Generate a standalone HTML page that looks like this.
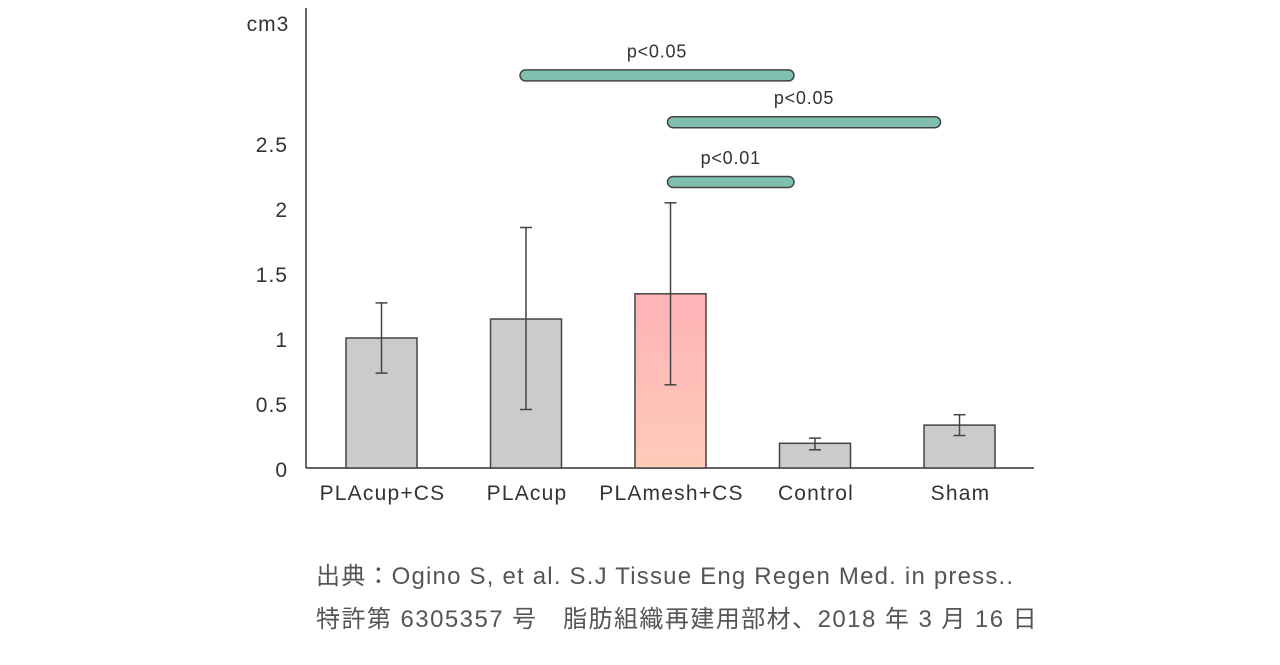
<!DOCTYPE html>
<html><head><meta charset="utf-8"><style>
body{margin:0;background:#fff;width:1280px;height:660px;overflow:hidden}
svg text{font-family:"Liberation Sans","Noto Sans CJK JP",sans-serif;fill:#333}
</style></head><body>
<svg id="c" width="1280" height="660">
<defs><linearGradient id="pg" x1="0" y1="0" x2="0" y2="1"><stop offset="0" stop-color="#ffb3b8"/><stop offset="1" stop-color="#ffcab8"/></linearGradient></defs>
</svg>
<script>
const categories=["PLAcup+CS","PLAcup","PLAmesh+CS","Control","Sham"];
const values=[1.0,1.146,1.34,0.19,0.33];
const errHigh=[1.27,1.85,2.04,0.23,0.41];
const errLow=[0.73,0.45,0.64,0.14,0.25];
const yTicks=[0,0.5,1,1.5,2,2.5];
const yTickLabels=["0","0.5","1","1.5","2","2.5"];
const sigFrom=[1,2,2];
const sigTo=[3,4,3];
const sigY=[3.02,2.66,2.2];
const sigLabels=["p<0.05","p<0.05","p<0.01"];
const svg=document.getElementById('c');const NS="http://www.w3.org/2000/svg";
function y(v){return 468-v*130;}
function x(i){return 381.5+i*144.5;}
function mk(t,a,p){const e=document.createElementNS(NS,t);for(const k in a)e.setAttribute(k,a[k]);(p||svg).appendChild(e);return e;}
let ax=mk('line',{x1:306,y1:8,x2:306,y2:468,stroke:'#333','stroke-width':1.5});


let xa=mk('line',{x1:306,y1:468,x2:1034,y2:468,stroke:'#333','stroke-width':1.5});


let u=mk('text',{x:268,y:31,'font-size':21,'letter-spacing':1,'text-anchor':'middle'});u.textContent='cm3';


yTicks.forEach((v,i)=>{let t=mk('text',{x:288,y:y(v)+9,'font-size':21,'letter-spacing':1,'text-anchor':'end'});t.textContent=yTickLabels[i];

});
categories.forEach((c,i)=>{
 let b=mk('rect',{x:x(i)-35.5,y:y(values[i]),width:71,height:y(0)-y(values[i]),fill:i==2?'url(#pg)':'#cbcbcb',stroke:'#444','stroke-width':1.5});
 
 
 let g=mk('g',{stroke:'#444','stroke-width':1.5});
 
 
 mk('line',{x1:x(i),x2:x(i),y1:y(errHigh[i]),y2:y(errLow[i])},g);
 mk('line',{x1:x(i)-6,x2:x(i)+6,y1:y(errHigh[i]),y2:y(errHigh[i])},g);
 mk('line',{x1:x(i)-6,x2:x(i)+6,y1:y(errLow[i]),y2:y(errLow[i])},g);
 let t=mk('text',{x:x(i)+1,y:500,'font-size':21,'letter-spacing':1.2,'text-anchor':'middle'});t.textContent=c;
 
 
});
sigLabels.forEach((l,i)=>{
 const x1=x(sigFrom[i])-6+(sigFrom[i]==2?3:0),x2=x(sigTo[i])-21+(sigTo[i]==4?2:0);const yy=y(sigY[i]);
 let r=mk('rect',{x:x1,y:yy-5.5,width:x2-x1,height:11,rx:5.5,fill:'#7fbfb0',stroke:'#444','stroke-width':1.5});
 
 
 let t=mk('text',{x:(x1+x2)/2,y:yy-18,'font-size':18,'letter-spacing':0.8,'text-anchor':'middle'});t.textContent=l;
 
 
});
</script>
<div style="position:absolute;left:316px;top:555px;font-family:'Liberation Sans','Noto Sans CJK JP',sans-serif;font-size:24px;letter-spacing:1.2px;color:#555;line-height:43px">出典：Ogino S, et al. S.J Tissue Eng Regen Med. in press..<br><span style="letter-spacing:1.45px">特許第 6305357 号　脂肪組織再建用部材、2018 年 3 月 16 日</span></div>
</body></html>
